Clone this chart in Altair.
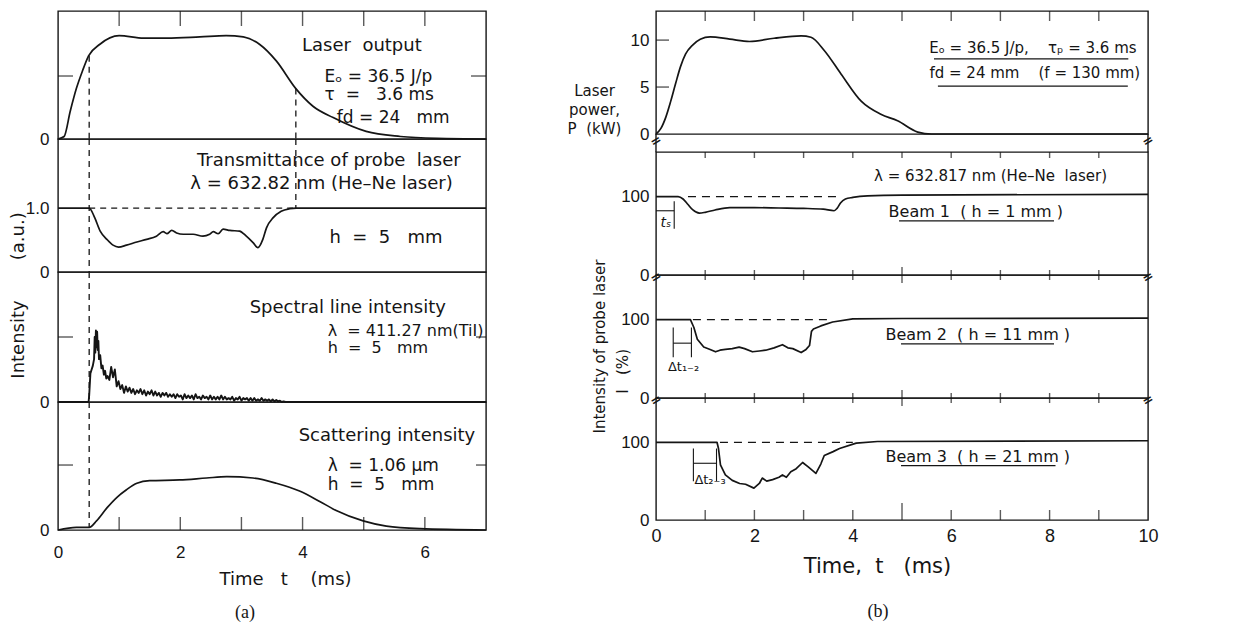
import altair as alt
import pandas as pd

FONT = "DejaVu Sans"
NUMFONT = "Liberation Sans"
INK = "#151515"
NB = "\u00a0"


def nb(s):
    return s.replace(" ", NB)


# ---------------- (a) data ----------------
a_out_t = [0, 0.1, 0.2, 0.3, 0.4, 0.5, 0.68, 1.0, 1.4, 1.78, 2.32, 2.75, 3.03, 3.3, 3.57, 3.89, 4.17, 4.5, 5.04, 5.6, 6.2, 7.0]
a_out_v = [0, 0.02, 0.22, 0.40, 0.54, 0.66, 0.75, 0.82, 0.80, 0.80, 0.81, 0.82, 0.81, 0.75, 0.62, 0.40, 0.26, 0.17, 0.06, 0.02, 0.005, 0.0]

a_tr_t = [0, 0.51, 0.60, 0.69, 0.80, 0.90, 0.99, 1.12, 1.29, 1.45, 1.61, 1.72, 1.78, 1.86, 1.94, 2.05, 2.21, 2.37,
          2.48, 2.54, 2.62, 2.70, 2.81, 2.97, 3.08, 3.19, 3.27, 3.35, 3.41, 3.52, 3.65, 3.79, 3.90, 7.0]
a_tr_v = [1.0, 1.0, 0.85, 0.64, 0.51, 0.42, 0.39, 0.42, 0.47, 0.51, 0.56, 0.63, 0.60, 0.65, 0.61, 0.59, 0.59, 0.56,
          0.59, 0.63, 0.60, 0.67, 0.65, 0.64, 0.56, 0.46, 0.38, 0.51, 0.69, 0.85, 0.95, 0.99, 1.0, 1.0]

a_sp_head_t = [0.0, 0.50, 0.51, 0.53, 0.55, 0.57, 0.59, 0.60, 0.61, 0.62, 0.63, 0.64, 0.65, 0.66, 0.67, 0.69, 0.71, 0.73, 0.75, 0.77, 0.79]
a_sp_head_v = [0.0, 0.0, 0.05, 0.22, 0.25, 0.28, 0.33, 0.50, 0.38, 0.55, 0.42, 0.54, 0.40, 0.47, 0.33, 0.36, 0.26, 0.28, 0.21, 0.24, 0.18]
a_sp_tail_v = [0.20, 0.17, 0.27, 0.19, 0.25, 0.12, 0.16, 0.10, 0.13, 0.07, 0.12, 0.08, 0.11, 0.07, 0.10, 0.06,
               0.09, 0.07, 0.10, 0.06, 0.09, 0.05, 0.08, 0.06, 0.09, 0.05, 0.08, 0.05, 0.07, 0.04, 0.07, 0.05,
               0.07, 0.04, 0.06, 0.04, 0.06, 0.03, 0.06, 0.04, 0.05, 0.02, 0.06, 0.03, 0.05, 0.03, 0.05, 0.02,
               0.06, 0.03, 0.04, 0.02, 0.05, 0.03, 0.04, 0.02, 0.05, 0.02, 0.04, 0.02, 0.04, 0.02, 0.05, 0.02,
               0.04, 0.02, 0.03, 0.02, 0.04, 0.01, 0.03, 0.02, 0.04, 0.01, 0.03, 0.02, 0.03, 0.01, 0.03, 0.01,
               0.03, 0.01, 0.02, 0.01, 0.03, 0.01, 0.02, 0.01, 0.02, 0.005, 0.02, 0.005, 0.015, 0.005, 0.01, 0.0,
               0.005, 0.0]
a_sp_tail_t = [round(0.81 + 0.03 * i, 2) for i in range(len(a_sp_tail_v))]
a_sp_t = a_sp_head_t + a_sp_tail_t + [7.0]
a_sp_v = a_sp_head_v + a_sp_tail_v + [0.0]

a_sc_t = [0, 0.30, 0.51, 0.63, 0.80, 0.96, 1.12, 1.29, 1.50, 1.99, 2.43, 2.76, 3.19, 3.57, 3.95, 4.28, 4.55, 4.99, 5.37, 5.92, 7.0]
a_sc_v = [0, 0.02, 0.02, 0.07, 0.17, 0.25, 0.31, 0.36, 0.38, 0.385, 0.40, 0.41, 0.40, 0.36, 0.30, 0.22, 0.15, 0.07, 0.03, 0.01, 0.0]

a_xticks = [1, 2, 3, 4, 5, 6]
a_xlabels = [0, 2, 4, 6]

# ---------------- (b) data ----------------
b_pw_t = [0, 0.1, 0.2, 0.3, 0.4, 0.5, 0.6, 0.75, 0.9, 1.1, 1.5, 1.9, 2.4, 2.95, 3.15, 3.42, 3.76, 4.17, 4.57, 4.91, 5.32, 5.6, 10]
b_pw_v = [0, 0.6, 1.8, 3.5, 5.4, 7.2, 8.5, 9.5, 10.1, 10.35, 10.1, 9.85, 10.2, 10.45, 10.3, 8.9, 6.4, 3.5, 2.1, 1.4, 0.2, 0.0, 0.0]

b_b1_t = [0, 0.45, 0.55, 0.65, 0.75, 0.88, 1.0, 1.2, 1.5, 2.0, 2.5, 3.0, 3.4, 3.62, 3.68, 3.75, 3.85, 4.0, 4.3, 5.0, 10]
b_b1_v = [100, 100, 97, 90, 83, 79, 80, 83, 86, 86, 85.5, 85, 84, 82, 85, 92, 97, 99, 101, 102, 103]

b_b2_t = [0, 0.70, 0.77, 0.84, 0.97, 1.1, 1.21, 1.3, 1.41, 1.55, 1.69, 1.8, 1.96, 2.1, 2.23, 2.4, 2.57, 2.68, 2.78,
          2.95, 3.05, 3.12, 3.16, 3.2, 3.35, 3.59, 4.0, 5.0, 10]
b_b2_v = [100, 100, 90, 75, 65, 62, 59, 61, 62, 63, 65, 63, 59, 60, 61, 64, 68, 64, 63,
          58, 62, 67, 85, 88, 92, 97, 101, 101.5, 102]

b_b3_t = [0, 1.24, 1.27, 1.31, 1.41, 1.55, 1.7, 1.82, 1.99, 2.1, 2.16, 2.25, 2.37, 2.5, 2.57, 2.65, 2.74, 2.85,
          2.98, 3.1, 3.25, 3.35, 3.42, 3.6, 3.73, 4.07, 4.5, 10]
b_b3_v = [100, 100, 92, 71, 58, 51, 47, 46, 41, 47, 54, 50, 52, 55, 58, 55, 62, 66,
          74, 68, 60, 72, 83, 88, 92, 99, 101, 102]

b_xticks = [1, 2, 3, 4, 6, 7, 8, 9]
b_xlabels = [0, 2, 4, 6, 8, 10]

XA = alt.Scale(domain=[0, 7], nice=False, zero=False)
XB = alt.Scale(domain=[0, 10], nice=False, zero=False)


def ysc(hi):
    return alt.Scale(domain=[0, hi], nice=False, zero=False)


class Panel:
    """Holds the scales and axes shared by every layer of one panel."""

    def __init__(self, xs, ys, xaxis=None, yaxis=None):
        self.xs, self.ys, self.xaxis, self.yaxis = xs, ys, xaxis, yaxis
        self.layers = []

    def enc(self, chart, df, extra=None):
        e = dict(x=alt.X("t:Q", scale=self.xs, axis=self.xaxis),
                 y=alt.Y("v:Q", scale=self.ys, axis=self.yaxis))
        if extra:
            e.update(extra)
        self.layers.append(chart.encode(**e))

    def curve(self, t, v, sw=1.7, interp="monotone"):
        df = pd.DataFrame({"t": t, "v": v})
        self.enc(alt.Chart(df).mark_line(color=INK, strokeWidth=sw, interpolate=interp, strokeJoin="round"), df)

    def segs(self, t, t2, v, v2, dash=None, sw=1.3):
        kw = dict(color=INK, strokeWidth=sw)
        if dash:
            kw["strokeDash"] = dash
        df = pd.DataFrame({"t": t, "t2": t2, "v": v, "v2": v2})
        self.enc(alt.Chart(df).mark_rule(**kw), df, dict(x2="t2:Q", y2="v2:Q"))

    def ticks(self, t, v, orient, size, dx=0, dy=0):
        df = pd.DataFrame({"t": t, "v": v})
        self.enc(alt.Chart(df).mark_tick(color=INK, orient=orient, size=size, thickness=1.4,
                                         xOffset=dx, yOffset=dy), df)

    def texts(self, t, v, labels, size=16, align="left", font=FONT, **kw):
        df = pd.DataFrame({"t": t, "v": v, "s": [nb(s) for s in labels]})
        self.enc(alt.Chart(df).mark_text(color=INK, font=font, fontSize=size, align=align,
                                         baseline="middle", **kw), df, dict(text="s:N"))

    def chart(self, w, h):
        return alt.layer(*self.layers).properties(width=w, height=h)


def yaxis(values, pad=6, expr=None, **kw):
    d = dict(values=values, ticks=False, domain=False, grid=False, labelFont=NUMFONT,
             labelFontSize=17, labelPadding=pad, labelColor=INK, title=None, labelFlush=False)
    if expr:
        d["labelExpr"] = expr
    d.update(kw)
    return alt.Axis(**d)


DASH = [6, 5]
BREAK = "="

# ---------------- (a) panels ----------------
WA = 428

p = Panel(XA, ysc(1.016), yaxis=yaxis([0], pad=9))
p.curve(a_out_t, a_out_v)
p.segs([0.51, 3.89], [0.51, 3.89], [0.66, 0.40], [0, 0], dash=DASH)
p.ticks(a_xticks, [1.016] * 6, "vertical", 15, dy=7.5)
p.ticks([0], [0.5], "horizontal", 15, dx=7.5)
p.ticks([7], [0.5], "horizontal", 15, dx=-7.5)
p.texts([4.97], [0.74], ["Laser  output"], size=18, align="center")
p.texts([4.36, 4.36, 4.56], [0.49, 0.35, 0.17],
        ["E\u2092 = 36.5 J/p", "\u03c4  =   3.6 ms", "fd = 24   mm"], size=17)
a1 = p.chart(WA, 128)

p = Panel(XA, ysc(2.08), yaxis=yaxis([0, 1], pad=9, expr="datum.value == 1 ? '1.0' : '0'"))
p.curve(a_tr_t, a_tr_v)
p.segs([0.51, 3.89, 0.51], [0.51, 3.89, 3.9], [2.08, 2.08, 1.0], [0, 1.0, 1.0], dash=DASH)
p.texts([4.43, 4.31], [1.73, 1.375],
        ["Transmittance of probe  laser", "\u03bb = 632.82 nm (He\u2013Ne laser)"], size=18, align="center")
p.texts([4.44], [0.53], ["h  =  5   mm"], size=18)
a2 = p.chart(WA, 133)

p = Panel(XA, ysc(1.0), yaxis=yaxis([0], pad=9, title=nb("Intensity" + " " * 7 + "(a.u.)"), titleAngle=270,
                                    titleX=-40, titleY=23, titleAlign="center", titleBaseline="middle",
                                    titleFont=FONT, titleFontSize=18, titleFontWeight="normal", titleColor=INK))
p.curve(a_sp_t, a_sp_v, sw=1.9, interp="linear")
p.segs([0.51], [0.51], [1.0], [0], dash=DASH)
p.ticks([0], [0.5], "horizontal", 15, dx=7.5)
p.ticks([7], [0.5], "horizontal", 10, dx=-5)
p.texts([4.74], [0.72], ["Spectral line intensity"], size=18, align="center")
p.texts([4.41, 4.41], [0.55, 0.415], ["\u03bb  = 411.27 nm(TiI)", "h  =  5   mm"], size=16)
a3 = p.chart(WA, 130)

p = Panel(XA, ysc(0.985), yaxis=yaxis([0], pad=9),
          xaxis=alt.Axis(values=a_xlabels, ticks=False, domain=False, grid=False, labelFont=NUMFONT,
                         labelFontSize=17, labelPadding=14, labelColor=INK, labelFlush=False,
                         title=nb("Time   t    (ms)"), titleFont=FONT, titleFontSize=18, titleFontWeight="normal",
                         titleColor=INK, titlePadding=10, titleX=227, titleAnchor="middle"))
p.curve(a_sc_t, a_sc_v)
p.segs([0.51], [0.51], [0.985], [0.02], dash=DASH)
p.ticks(a_xticks, [0] * 6, "vertical", 13, dy=-6.5)
p.ticks([0], [0.5], "horizontal", 15, dx=7.5)
p.ticks([7], [0.5], "horizontal", 10, dx=-5)
p.texts([5.38], [0.72], ["Scattering intensity"], size=18, align="center")
p.texts([4.41, 4.41], [0.49, 0.35], ["\u03bb  = 1.06 \u03bcm", "h  =  5   mm"], size=17)
p.texts([3.06], [-0.64], ["(a)"], size=18, align="center", font="Liberation Serif")
a4 = p.chart(WA, 128)

left = alt.vconcat(a1, a2, a3, a4, spacing=0, bounds="flush")

# ---------------- (b) panels ----------------
WB = 492
YB = 157

p = Panel(XB, ysc(13.1),
          yaxis=yaxis([0, 5, 10], pad=7, title=["Laser", "power,", nb("P  (kW)")], titleAngle=0, titleX=-62,
                      titleY=79, titleAlign="center", titleBaseline="middle", titleLineHeight=19,
                      titleFont=FONT, titleFontSize=15, titleFontWeight="normal", titleColor=INK))
p.curve(b_pw_t, b_pw_v)
p.ticks(list(range(1, 10)), [13.1] * 9, "vertical", 10, dy=5)
p.ticks([0, 0], [5, 10], "horizontal", 13, dx=6.5)
p.texts([7.66, 7.7], [9.15, 6.5],
        ["E\u2092 = 36.5 J/p,    \u03c4\u209a = 3.6 ms", "fd = 24 mm    (f = 130 mm)"], size=15, align="center")
p.segs([5.65, 5.73], [9.6, 9.59], [8.0, 5.1], [8.0, 5.1], sw=1.2)
# axis lines continuing through the break between the power panel and the probe panels
p.segs([0, 10], [0, 10], [0, 0], [-1.95, -1.95], sw=1.4)
p.texts([0, 10], [-0.75, -0.75], [BREAK, BREAK], size=13, align="center", angle=330, fontWeight="bold")
b1 = p.chart(WB, 123)

p = Panel(XB, ysc(YB), yaxis=yaxis([0, 100], pad=7))
p.curve(b_b1_t, b_b1_v)
p.segs([0.65], [3.7], [100], [100], dash=[8, 6])
p.ticks(list(range(1, 10)), [YB] * 9, "vertical", 6, dy=3)
p.ticks(b_xticks, [0] * 8, "vertical", 10)
p.ticks([5], [0], "vertical", 16)
p.segs([0.0, 0.37], [0.37, 0.37], [82, 59], [82, 94], sw=1.1)
p.texts([6.8], [126], ["\u03bb = 632.817 nm (He\u2013Ne  laser)"], size=15, align="center")
p.texts([6.5], [81], ["Beam 1  ( h = 1 mm )"], size=16, align="center")
p.segs([4.94], [8.09], [69], [69], sw=1.2)
p.texts([0.2], [66], ["t\u209b"], size=14, align="center", fontStyle="italic")
p.texts([0, 10], [-3, -3], [BREAK, BREAK], size=13, align="center", angle=330, fontWeight="bold")
b2 = p.chart(WB, 123)

p = Panel(XB, ysc(YB),
          yaxis=yaxis([0, 100], pad=7, title=nb("Intensity of probe laser"),
                      titleAngle=270, titleX=-57, titleY=71, titleAlign="center", titleBaseline="middle",
                      titleFont=FONT, titleFontSize=15, titleFontWeight="normal", titleColor=INK))
p.curve(b_b2_t, b_b2_v, interp="linear")
p.segs([0.75], [3.5], [100], [100], dash=[8, 6])
p.ticks(b_xticks, [0] * 8, "vertical", 10)
p.ticks([5], [0], "vertical", 16)
p.segs([0.35, 0.35, 0.72], [0.72, 0.35, 0.72], [70, 52, 52], [70, 90, 90], sw=1.1)
p.texts([0.56], [40], ["\u0394t\u2081\u208b\u2082"], size=13, align="center")
p.texts([6.54], [81], ["Beam 2  ( h = 11 mm )"], size=16, align="center")
p.segs([4.98], [8.09], [69], [69], sw=1.2)
p.texts([-0.67], [34], ["I   (%)"], size=15, align="center", angle=270)
p.texts([0, 10], [-3, -3], [BREAK, BREAK], size=13, align="center", angle=330, fontWeight="bold")
b3 = p.chart(WB, 123)

p = Panel(XB, ysc(YB), yaxis=yaxis([0, 100], pad=7),
          xaxis=alt.Axis(values=b_xlabels, ticks=False, domain=False, grid=False, labelFont=NUMFONT,
                         labelFontSize=18, labelPadding=7, labelColor=INK, labelFlush=False,
                         title=nb("Time,  t   (ms)"), titleFont=FONT, titleFontSize=21, titleFontWeight="normal",
                         titleColor=INK, titlePadding=10, titleX=221, titleAnchor="middle"))
p.curve(b_b3_t, b_b3_v, interp="linear")
p.segs([1.3], [4.0], [100], [100], dash=[8, 6])
p.ticks(b_xticks, [0] * 8, "vertical", 10, dy=-5)
p.ticks([5], [0], "vertical", 17, dy=-8.5)
p.segs([0.76, 0.76, 1.23], [1.23, 0.76, 1.23], [73, 50, 50], [73, 92, 92], sw=1.1)
p.texts([0.78], [51], ["\u0394t\u2082\u208b\u2083"], size=13)
p.texts([6.54], [81], ["Beam 3  ( h = 21 mm )"], size=16, align="center")
p.segs([4.98], [8.12], [70], [70], sw=1.2)
p.texts([4.51], [-118], ["(b)"], size=18, align="center", font="Liberation Serif")
b4 = p.chart(WB, 122)

right = alt.vconcat(b1, alt.vconcat(b2, b3, b4, spacing=0, bounds="flush"), spacing=18, bounds="flush")

chart = alt.hconcat(left, right, spacing=78).properties(
    padding={"left": 0, "top": 2, "right": 5, "bottom": 0},
    background="white",
).configure_view(stroke=INK, strokeWidth=1.4).configure_axis(grid=False)

chart.save("out.html", embed_options={"renderer": "svg", "actions": False})
